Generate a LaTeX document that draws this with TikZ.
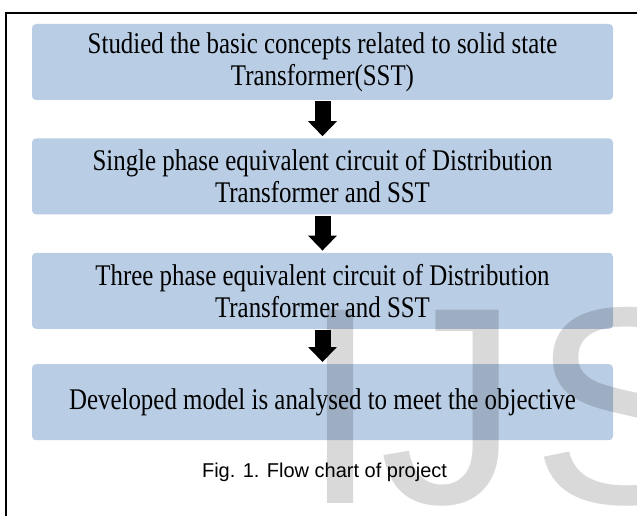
\documentclass[tikz,border=0pt]{standalone}
\usepackage{fontspec}
\usepackage{xcolor}
\usepackage{tikz}
\usetikzlibrary{arrows.meta, positioning}
\newfontfamily\boxfont[FakeStretch=0.83]{Liberation Serif}
\newfontfamily\capfont{Liberation Sans}
\definecolor{stageblue}{HTML}{B9CDE5}

\begin{document}
\begin{tikzpicture}[
  x=1pt, y=1pt,
  node distance=38pt,
  stage/.style={rectangle, rounded corners=4pt, fill=stageblue,
               minimum height=76pt, minimum width=581pt,
               font=\boxfont\fontsize{30}{32}\selectfont, align=center},
  arr/.style={line width=16pt, -{Triangle[width=28pt, length=15pt]},
              shorten <=1pt, shorten >=2pt},
  figcap/.style={font=\capfont\fontsize{20}{24}\selectfont},
  wmark/.style={font=\capfont\fontsize{281}{281}\selectfont,
               text=black, text opacity=0.15, inner sep=0pt},
]
\useasboundingbox (0,0) rectangle (637,-516);
\clip (0,0) rectangle (637,-516);
\draw[line width=1.3pt] (6,-520) -- (6,-13) -- (645,-13);

\node[stage] (study) at (322.5,-62) {Studied the basic concepts related to solid state\\Transformer(SST)};
\node[stage, below=of study] (single) {Single phase equivalent circuit of Distribution\\Transformer and SST};
\node[stage, below=of single] (three) {Three phase equivalent circuit of Distribution\\Transformer and SST};
\node[stage, below=35pt of three] (model) {Developed model is analysed to meet the objective};

\node[figcap, anchor=base] (cap) at ([xshift=2pt, yshift=-37pt]model.south) {Fig. 1. Flow chart of project};

\draw[arr] (study.south) -- (single.north);
\draw[arr] (single.south) -- (three.north);
\draw[arr] (three.south) -- (model.north);

\node[wmark, anchor=base west] (wm) at (301,-503) {IJ\kern12pt S};
\end{tikzpicture}
\end{document}
